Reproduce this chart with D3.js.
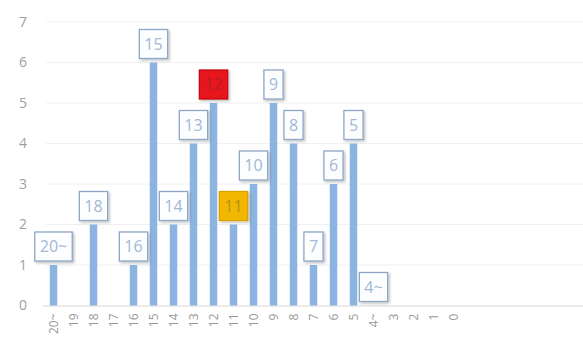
<!DOCTYPE html>
<html>
<head>
<meta charset="utf-8">
<script src="https://cdn.jsdelivr.net/npm/d3@7/dist/d3.min.js"></script>
<style>
  html, body { margin: 0; padding: 0; background: #fff; }
  svg { display: block; font-family: "Open Sans", "Noto Sans", sans-serif; }
</style>
</head>
<body>
<svg id="chart" width="583" height="340"></svg>
<script>
// Counts per bucket, from "20~" down to 0
const categories = ["20~", "19", "18", "17", "16", "15", "14", "13", "12", "11", "10", "9", "8", "7", "6", "5", "4~", "3", "2", "1", "0"];
const values     = [1, 0, 2, 0, 1, 6, 2, 4, 5, 2, 3, 5, 4, 1, 3, 4, 0, 0, 0, 0, 0];
// Buckets that carry a name tag above their bar
const tagged     = ["20~", "18", "16", "15", "14", "13", "12", "11", "10", "9", "8", "7", "6", "5", "4~"];
// Highlighted tags
const highlights = { "12": "hot", "11": "warm" };
const yTicks     = [0, 1, 2, 3, 4, 5, 6, 7];

const W = 583, H = 340;
const svg = d3.select("#chart");

const x = d3.scaleBand().domain(categories).range([43.5, 463.5]).padding(0);
const y = d3.scaleLinear().domain([0, 7]).range([305.5, 22]);
const barW = 7.5;

const defs = svg.append("defs");
const f = defs.append("filter").attr("id", "shadow")
  .attr("x", "-30%").attr("y", "-30%").attr("width", "160%").attr("height", "160%");
f.append("feDropShadow").attr("dx", 1.5).attr("dy", 1.5).attr("stdDeviation", 1)
  .attr("flood-color", "#000").attr("flood-opacity", 0.25);

// horizontal grid
svg.append("g").selectAll("line").data(yTicks.filter(d => d > 0)).join("line")
  .attr("x1", 46).attr("x2", W)
  .attr("y1", d => y(d)).attr("y2", d => y(d))
  .attr("stroke", "#f0f0f0").attr("stroke-width", 1);

// baseline
svg.append("line").attr("x1", 43).attr("x2", W)
  .attr("y1", y(0) + 0.5).attr("y2", y(0) + 0.5)
  .attr("stroke", "#dcd8d4").attr("stroke-width", 1.2);

// y labels
const yAxis = d3.axisLeft(y).tickValues(yTicks).tickFormat(d3.format("d")).tickSize(0).tickPadding(0);
const ya = svg.append("g").attr("transform", "translate(27,0)").call(yAxis);
ya.select(".domain").remove();
ya.selectAll("text").attr("fill", "#a0a0a0").attr("font-size", 14)
  .attr("font-family", "'Open Sans', sans-serif");

// x labels (rotated)
const xAxis = d3.axisBottom(x).tickSize(0).tickPadding(0);
const xa = svg.append("g").attr("transform", `translate(0,${y(0)})`).call(xAxis);
xa.select(".domain").remove();
xa.selectAll("text")
  .attr("fill", "#999").attr("font-size", 12)
  .attr("font-family", "'Open Sans', sans-serif")
  .attr("text-anchor", "end")
  .attr("transform", "translate(0,8) rotate(-90)")
  .attr("x", 0).attr("y", 0).attr("dy", "0.35em");

// bars
svg.append("g").selectAll("rect").data(categories.map((c, i) => ({ c, v: values[i] })).filter(d => d.v > 0))
  .join("rect")
  .attr("x", d => x(d.c) + x.bandwidth() / 2 - barW / 2)
  .attr("width", barW)
  .attr("y", d => y(d.v))
  .attr("height", d => y(0) - y(d.v))
  .attr("fill", "#8cb4e1");

// name tags
const tagH = 29;
const tagData = tagged.map(c => ({ c, v: values[categories.indexOf(c)] }));
const tags = svg.append("g").selectAll("g").data(tagData).join("g")
  .attr("transform", d => `translate(${x(d.c) + x.bandwidth() / 2},${y(d.v) - 4})`);

tags.each(function (d) {
  const g = d3.select(this);
  const kind = highlights[d.c];
  const fill = kind === "hot" ? "#e8141e" : kind === "warm" ? "#f2b705" : "#fdfeff";
  const stroke = kind === "hot" ? "#c01018" : kind === "warm" ? "#d9a000" : "#8ea6c6";
  const txtColor = kind === "hot" ? "#b0202a" : kind === "warm" ? "#b89020" : "#a2b8d6";
  const rect = g.append("rect").attr("fill", fill).attr("stroke", stroke)
    .attr("stroke-width", 1.3).attr("filter", "url(#shadow)");
  const t = g.append("text").text(d.c)
    .attr("font-size", 16).attr("fill", txtColor)
    .attr("text-anchor", "middle")
    .attr("y", -tagH / 2).attr("dy", "0.36em");
  const tw = t.node().getComputedTextLength();
  const bw = Math.max(19, tw + 10);
  rect.attr("x", -bw / 2).attr("y", -tagH).attr("width", bw).attr("height", tagH);
});
</script>
</body>
</html>
